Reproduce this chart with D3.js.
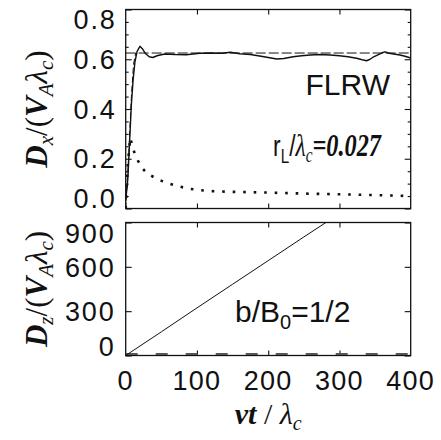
<!DOCTYPE html>
<html>
<head>
<meta charset="utf-8">
<script src="https://cdn.jsdelivr.net/npm/d3@7"></script>
<style>
  html, body { margin: 0; padding: 0; background: #fff; }
  svg { display: block; }
</style>
</head>
<body>
<svg id="chart" width="441" height="440"></svg>
<script>
// ---------- data ----------
const xTicks = [0, 100, 200, 300, 400];
const xTickLabels = ["0", "100", "200", "300", "400"];
const topYTicks = [0, 0.2, 0.4, 0.6, 0.8];
const topYTickLabels = ["0.0", "0.2", "0.4", "0.6", "0.8"];
const topYMinor = [0.05,0.1,0.15,0.25,0.3,0.35,0.45,0.5,0.55,0.65,0.7,0.75];
const botYTicks = [0, 300, 600, 900];
const botYTickLabels = ["0", "300", "600", "900"];

// top panel: simulated D_x (solid)
const dxT = [0,3,6,8,10.5,13,16,20,24,28,33,38,45,55,70,85,104,120,135,147,160,175,190,200,212,222,235,247,259,272,287,300,312,324,332,338,343,348,354,360,364,370,376,385,392,400];
const dxV = [0.03,0.12,0.30,0.42,0.52,0.59,0.632,0.652,0.64,0.622,0.61,0.607,0.615,0.621,0.619,0.618,0.624,0.625,0.624,0.628,0.622,0.619,0.612,0.607,0.601,0.603,0.610,0.614,0.617,0.619,0.617,0.614,0.610,0.604,0.598,0.594,0.600,0.610,0.618,0.626,0.630,0.624,0.621,0.617,0.612,0.605];
// top panel: theoretical rise (dashed)
const riseT = [0, 4, 8, 11, 14];
const riseV = [0, 0.2, 0.45, 0.58, 0.625];
// top panel: asymptotic level (dashed)
const levelT = [0, 400];
const levelV = [0.625, 0.625];
// top panel: D_perp (dotted)
const dpT = [0, 3, 6.5, 10, 14, 22, 30, 45, 59, 73, 88, 103, 117, 150, 200, 250, 300, 350, 400];
const dpV = [0, 0.18, 0.284, 0.244, 0.21, 0.166, 0.141, 0.117, 0.102, 0.09, 0.08, 0.074, 0.07, 0.067, 0.064, 0.06, 0.057, 0.054, 0.05];
// bottom panel: D_z (solid) and reference (dashed)
const dzT = [0, 50, 100, 150, 200, 250, 281];
const dzV = [0, 160, 322, 482, 642, 802, 900];
const dz2T = [0, 400];
const dz2V = [10, 10];

// ---------- layout ----------
const L = 125.7, R = 410.7;
const topT = 9.5, topB = 208.5;
const botT = 222.5, botB = 355.5;

const svg = d3.select("#chart");
const x = d3.scaleLinear().domain([0, 400]).range([L, R]);
const yTop = d3.scaleLinear().domain([0, 0.8]).range([topB, topT]);
const yBot = d3.scaleLinear().domain([0, 900]).range([botB, botT]);

const sans = "'Liberation Sans', Arial, Helvetica, sans-serif";
const serif = "'Liberation Serif', 'Times New Roman', Times, serif";
const ink = "#111";

// clip paths
const defs = svg.append("defs");
defs.append("clipPath").attr("id", "clipTop").append("rect")
  .attr("x", L).attr("y", topT).attr("width", R - L).attr("height", topB - topT);
defs.append("clipPath").attr("id", "clipBot").append("rect")
  .attr("x", L).attr("y", botT).attr("width", R - L).attr("height", botB - botT);

function frame(yS, t, b, majors, minors, majLen, minLen) {
  const g = svg.append("g");
  g.append("g").attr("transform", `translate(${L},0)`)
    .call(d3.axisLeft(yS).tickValues(majors).tickSize(-majLen).tickFormat("").tickSizeOuter(0));
  g.append("g").attr("transform", `translate(${R},0)`)
    .call(d3.axisRight(yS).tickValues(majors).tickSize(-majLen).tickFormat("").tickSizeOuter(0));
  if (minors.length) {
    g.append("g").attr("transform", `translate(${L},0)`)
      .call(d3.axisLeft(yS).tickValues(minors).tickSize(-minLen).tickFormat("").tickSizeOuter(0));
    g.append("g").attr("transform", `translate(${R},0)`)
      .call(d3.axisRight(yS).tickValues(minors).tickSize(-minLen).tickFormat("").tickSizeOuter(0));
  }
  g.append("g").attr("transform", `translate(0,${b})`)
    .call(d3.axisBottom(x).tickValues([100, 200, 300]).tickSize(-5).tickFormat("").tickSizeOuter(0));
  g.append("g").attr("transform", `translate(0,${t})`)
    .call(d3.axisTop(x).tickValues([100, 200, 300]).tickSize(-5).tickFormat("").tickSizeOuter(0));
  g.selectAll(".domain").remove();
  g.selectAll(".tick line").attr("stroke", ink).attr("stroke-width", 1.1);
  g.append("rect").attr("x", L).attr("y", t).attr("width", R - L).attr("height", b - t)
    .attr("fill", "none").attr("stroke", ink).attr("stroke-width", 1.3);
}
frame(yTop, topT, topB, topYTicks, topYMinor, 6, 3);
frame(yBot, botT, botB, botYTicks, [], 6, 3);

// ---------- lines ----------
function series(ts, vs) { return ts.map((t, i) => [t, vs[i]]); }
const lineTop = d3.line().x(d => x(d[0])).y(d => yTop(d[1]));
const lineBot = d3.line().x(d => x(d[0])).y(d => yBot(d[1]));

const gTop = svg.append("g").attr("clip-path", "url(#clipTop)");
gTop.append("path").attr("d", lineTop(series(levelT, levelV)))
  .attr("fill", "none").attr("stroke", ink).attr("stroke-width", 1).attr("stroke-dasharray", "10,3");
gTop.append("path").attr("d", lineTop(series(riseT, riseV)))
  .attr("fill", "none").attr("stroke", ink).attr("stroke-width", 1).attr("stroke-dasharray", "6,3");
gTop.append("path").attr("d", lineTop(series(dxT, dxV)))
  .attr("fill", "none").attr("stroke", ink).attr("stroke-width", 1.4).attr("stroke-linejoin", "round");
gTop.append("path").attr("d", lineTop(series(dpT, dpV)))
  .attr("fill", "none").attr("stroke", ink).attr("stroke-width", 2.6).attr("stroke-dasharray", "2.6,7.9");

const gBot = svg.append("g").attr("clip-path", "url(#clipBot)");
gBot.append("path").attr("d", lineBot(series(dz2T, dz2V)))
  .attr("fill", "none").attr("stroke", "#555").attr("stroke-width", 2.2).attr("stroke-dasharray", "12,18");
gBot.append("path").attr("d", lineBot(series(dzT, dzV)))
  .attr("fill", "none").attr("stroke", ink).attr("stroke-width", 1);

// ---------- tick labels ----------
const tickFont = 27;
topYTicks.forEach((v, i) => {
  let yy = yTop(v);
  if (i === 0) yy -= 10;
  if (i === topYTicks.length - 1) yy += 10;
  svg.append("text").attr("x", 116.5).attr("y", yy).attr("dy", "0.36em")
    .attr("text-anchor", "end").attr("font-family", sans).attr("font-size", tickFont)
    .attr("letter-spacing", 1.8).attr("fill", ink).text(topYTickLabels[i]);
});
botYTicks.forEach((v, i) => {
  let yy = yBot(v);
  if (i === 0) yy -= 9;
  if (i === botYTicks.length - 1) yy += 10.5;
  svg.append("text").attr("x", 115.5).attr("y", yy).attr("dy", "0.36em")
    .attr("text-anchor", "end").attr("font-family", sans).attr("font-size", tickFont)
    .attr("letter-spacing", 1.8).attr("fill", ink).text(botYTickLabels[i]);
});
xTicks.forEach((v, i) => {
  svg.append("text").attr("x", x(v)).attr("y", 390)
    .attr("text-anchor", "middle").attr("font-family", sans).attr("font-size", tickFont)
    .attr("letter-spacing", 1.2).attr("fill", ink).text(xTickLabels[i]);
});

// ---------- axis titles ----------
function yTitle(cx, cy, sub) {
  const t = svg.append("text").attr("transform", `translate(${cx},${cy}) rotate(-90)`)
    .attr("text-anchor", "middle").attr("font-family", serif).attr("font-size", 31).attr("fill", ink);
  t.append("tspan").attr("font-weight", "bold").attr("font-style", "italic").text("D");
  t.append("tspan").attr("font-style", "italic").attr("font-size", 21).attr("dy", 6).text(sub);
  t.append("tspan").attr("dy", -6).text("/(");
  t.append("tspan").attr("font-weight", "bold").attr("font-style", "italic").text("V");
  t.append("tspan").attr("font-style", "italic").attr("font-size", 21).attr("dy", 6).text("A");
  t.append("tspan").attr("font-style", "italic").attr("dy", -6).text("λ");
  t.append("tspan").attr("font-style", "italic").attr("font-size", 21).attr("dy", 6).text("c");
  t.append("tspan").attr("dy", -6).text(")");
}
yTitle(47, (topT + topB) / 2, "x");
yTitle(47, (botT + botB) / 2, "z");

const xt = svg.append("text").attr("x", (L + R) / 2).attr("y", 424)
  .attr("text-anchor", "middle").attr("font-family", serif).attr("font-size", 30).attr("fill", ink);
xt.append("tspan").attr("font-weight", "bold").attr("font-style", "italic").text("vt");
xt.append("tspan").text(" / ");
xt.append("tspan").attr("font-style", "italic").text("λ");
xt.append("tspan").attr("font-style", "italic").attr("font-size", 20).attr("dy", 6).text("c");

// ---------- annotations ----------
svg.append("text").attr("x", 390).attr("y", 95).attr("text-anchor", "end")
  .attr("font-family", sans).attr("font-size", 30).attr("fill", ink).text("FLRW");

const rl = svg.append("g").attr("transform", "translate(381,156) scale(0.76,1)")
  .append("text").attr("x", 0).attr("y", 0).attr("text-anchor", "end")
  .attr("font-family", serif).attr("font-size", 30).attr("fill", ink);
rl.append("tspan").attr("font-family", sans).text("r");
rl.append("tspan").attr("font-family", sans).attr("font-size", 20).attr("dy", 7).text("L");
rl.append("tspan").attr("font-family", sans).attr("dy", -7).text("/");
rl.append("tspan").attr("font-style", "italic").attr("font-size", 31).text("λ");
rl.append("tspan").attr("font-style", "italic").attr("font-size", 20).attr("dy", 6).text("c");
rl.append("tspan").attr("font-style", "italic").attr("font-weight", "bold")
  .attr("font-size", 32).attr("dy", -6).text("=0.027");

const bb = svg.append("text").attr("x", 235).attr("y", 322)
  .attr("font-family", sans).attr("font-size", 30).attr("fill", ink);
bb.append("tspan").text("b/B");
bb.append("tspan").attr("font-size", 20).attr("dy", 7).text("0");
bb.append("tspan").attr("dy", -7).text("=1/2");
</script>
</body>
</html>
